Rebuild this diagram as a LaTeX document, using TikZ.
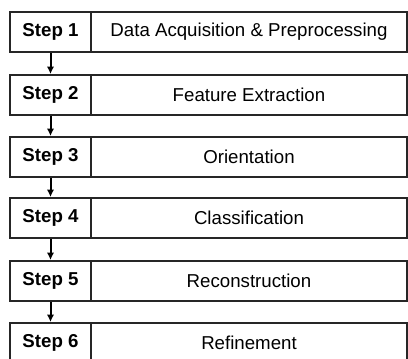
\documentclass[tikz,border=0pt]{standalone}
\usepackage{fontspec}
\setmainfont{Liberation Sans}
\usetikzlibrary{arrows.meta}
\begin{document}
\begin{tikzpicture}[x=0.75pt, y=-0.75pt,
    every node/.style={font=\fontsize{14}{16}\selectfont},
    stepbox/.style={shape=rectangle, draw=black!85, line width=1.5pt, minimum width=60.75pt, minimum height=30pt, inner sep=0pt, font=\fontsize{14}{16}\selectfont\bfseries},
    taskbox/.style={shape=rectangle, draw=black!85, line width=1.5pt, minimum width=237pt, minimum height=30pt, inner sep=0pt},
    flow/.style={-{Latex[length=5.5pt, width=5.5pt]}, line width=1.5pt}]
\clip (0,0) rectangle (408,358);
\node[stepbox] (S1) at (50.5,32)  {Step 1};
\node[taskbox] (D1) at (249,32)   {Data Acquisition \& Preprocessing};
\node[stepbox] (S2) at (50.5,95)  {Step 2};
\node[taskbox] (D2) at (249,95)   {Feature Extraction};
\node[stepbox] (S3) at (50.5,157) {Step 3};
\node[taskbox] (D3) at (249,157)  {Orientation};
\node[stepbox] (S4) at (50.5,218) {Step 4};
\node[taskbox] (D4) at (249,218)  {Classification};
\node[stepbox] (S5) at (50.5,281) {Step 5};
\node[taskbox] (D5) at (249,281)  {Reconstruction};
\node[stepbox] (S6) at (50.5,343) {Step 6};
\node[taskbox] (D6) at (249,343)  {Refinement};

\draw[flow] (S1) -- (S2);
\draw[flow] (S2) -- (S3);
\draw[flow] (S3) -- (S4);
\draw[flow] (S4) -- (S5);
\draw[flow] (S5) -- (S6);
\end{tikzpicture}
\end{document}
